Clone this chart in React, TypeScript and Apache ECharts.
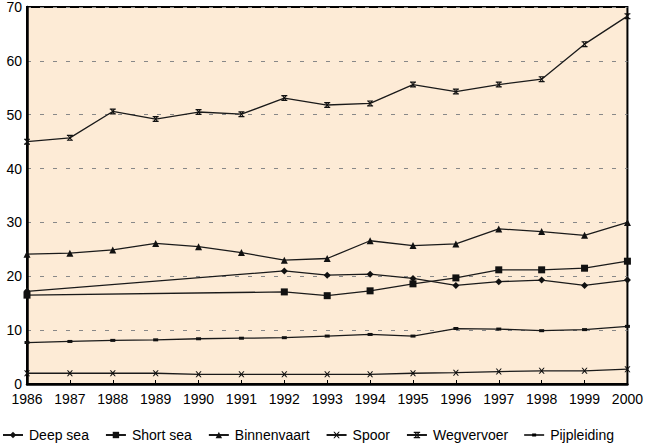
import React, { useEffect, useRef } from "react";
import * as echarts from "echarts";

const years = ["1986","1987","1988","1989","1990","1991","1992","1993","1994","1995","1996","1997","1998","1999","2000"];
const deepSea = [17.2, null, null, null, null, null, 21.0, 20.2, 20.4, 19.6, 18.3, 19.0, 19.3, 18.3, 19.3];
const shortSea = [16.5, null, null, null, null, null, 17.1, 16.4, 17.3, 18.6, 19.7, 21.2, 21.2, 21.5, 22.8];
const binnenvaart = [24.1, 24.3, 24.9, 26.1, 25.5, 24.4, 23.0, 23.3, 26.6, 25.7, 26.0, 28.8, 28.3, 27.6, 30.0];
const spoor = [2.0, 2.0, 2.0, 2.0, 1.8, 1.8, 1.8, 1.8, 1.8, 2.0, 2.1, 2.3, 2.45, 2.45, 2.75];
const wegvervoer = [45.0, 45.7, 50.6, 49.2, 50.5, 50.1, 53.1, 51.8, 52.1, 55.6, 54.3, 55.6, 56.6, 63.1, 68.3];
const pijpleiding = [7.7, 7.9, 8.1, 8.2, 8.4, 8.5, 8.6, 8.9, 9.2, 8.9, 10.3, 10.2, 9.9, 10.1, 10.7];
const seriesNames = ["Deep sea","Short sea","Binnenvaart","Spoor","Wegvervoer","Pijpleiding"];

const crossPath = "path://M0,0 L2,0 L5,3.5 L8,0 L10,0 L6.2,5 L10,10 L8,10 L5,6.5 L2,10 L0,10 L3.8,5 Z";
const starPath = "path://M0,0 H10 V2 H0 Z M0,8 H10 V10 H0 Z M0,0 L2,0 L5,3.5 L8,0 L10,0 L6.2,5 L10,10 L8,10 L5,6.5 L2,10 L0,10 L3.8,5 Z";
const pipeLegendIcon = "path://M0,4.2 H20 V5.8 H0 Z M8,3.4 H12 V6.6 H8 Z";

export default function App() {
  const ref = useRef<HTMLDivElement>(null);
  useEffect(() => {
    if (!ref.current) return;
    const chart = echarts.init(ref.current, null, { renderer: "svg" });
    const lineStyle = { color: "#1a1a1a", width: 1.3 };
    const itemStyle = { color: "#111" };
    const mk = (name: string, data: any[], symbol: string, size: any) => ({
      name, type: "line", data, symbol, symbolSize: size, connectNulls: true,
      lineStyle, itemStyle, z: 3,
    });
    chart.setOption({
      animation: false,
      textStyle: { fontFamily: "Liberation Sans", color: "#000" },
      grid: {
        left: 27, right: 16, top: 4, bottom: 60,
        show: true, backgroundColor: "#FDEBD6", borderColor: "#000", borderWidth: 2,
      },
      legend: {
        top: 428, left: 2, padding: 0, itemWidth: 20, itemHeight: 8, itemGap: 16,
        textStyle: { fontSize: 14, color: "#000", fontFamily: "Liberation Sans", padding: [0, 0, 0, 1] },
        data: seriesNames.map((n) =>
          n === "Pijpleiding" ? { name: n, icon: pipeLegendIcon, itemStyle: { color: "#000" } } : n
        ),
      },
      xAxis: {
        type: "category", data: years, boundaryGap: false,
        axisLine: { lineStyle: { color: "#000", width: 2.5 } },
        axisTick: { inside: true, length: 4, lineStyle: { color: "#000" } },
        axisLabel: { fontSize: 14, color: "#000", margin: 8 },
      },
      yAxis: {
        type: "value", min: 0, max: 70, interval: 10,
        axisLine: { show: true, lineStyle: { color: "#000", width: 2.5 } },
        axisTick: { show: false },
        axisLabel: { fontSize: 14, color: "#000", margin: 5 },
        splitLine: { lineStyle: { color: "#888", type: [4, 9], width: 1 } },
      },
      series: [
        mk("Deep sea", deepSea, "diamond", 7),
        mk("Short sea", shortSea, "rect", 7),
        mk("Binnenvaart", binnenvaart, "triangle", 7),
        mk("Spoor", spoor, crossPath, 6),
        mk("Wegvervoer", wegvervoer, starPath, 6),
        mk("Pijpleiding", pijpleiding, "rect", [5, 3]),
      ],
    });
    return () => chart.dispose();
  }, []);
  return <div ref={ref} style={{ width: 646, height: 444, position: "absolute", left: 0, top: 0 }} />;
}
